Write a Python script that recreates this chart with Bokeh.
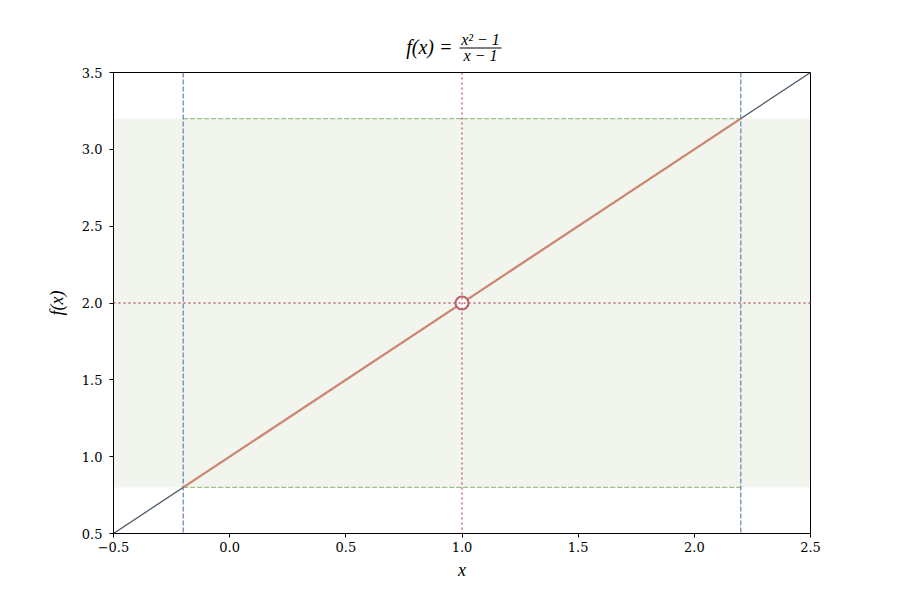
from bokeh.plotting import figure
from bokeh.layouts import column
from bokeh.models import Span, BoxAnnotation, FixedTicker, Range1d
from bokeh.core.properties import value
from bokeh.embed import file_html
from bokeh.resources import INLINE

# ---- data ----
x_ticks = [-0.5, 0.0, 0.5, 1.0, 1.5, 2.0, 2.5]
x_tick_labels = ["\u22120.5", "0.0", "0.5", "1.0", "1.5", "2.0", "2.5"]
y_ticks = [0.5, 1.0, 1.5, 2.0, 2.5, 3.0, 3.5]
y_tick_labels = ["0.5", "1.0", "1.5", "2.0", "2.5", "3.0", "3.5"]

full_x = [-0.5, 2.5]
full_y = [0.5, 3.5]
near_x = [-0.2, 2.2]
near_y = [0.8, 3.2]
hole_x = [1.0]
hole_y = [2.0]
limit_a = 1.0
limit_L = 2.0
delta_lo, delta_hi = -0.2, 2.2
eps_lo, eps_hi = 0.8, 3.2

title_lhs = "f(x) ="
title_num = "x\u00b2 \u2212 1"
title_den = "x \u2212 1"

GRAY = "#4c566a"
ORANGE = "#d08770"
RED = "#bf616a"
BLUE = "#5e81ac"
GREEN = "#a3be8c"
TICKFONT = "DejaVu Serif"
MATHFONT = "Liberation Serif"

W = 884
TITLE_H = 64
LEFT, FRAME_W = 113, 697
RIGHT = W - LEFT - FRAME_W

xr = Range1d(-0.5, 2.5)


def px(xpix):
    """page pixel -> x data coordinate (layout helper for the title strip)"""
    return xr.start + (xpix - LEFT) * (xr.end - xr.start) / FRAME_W


# ---- title strip: shares the x scale of the main plot, y in pixels downward ----
t = figure(width=W, height=TITLE_H, output_backend="svg", toolbar_location=None,
           x_range=xr, y_range=Range1d(TITLE_H, 0),
           x_axis_location=None, y_axis_location=None,
           min_border_left=LEFT, min_border_right=RIGHT, min_border_top=0, min_border_bottom=0,
           outline_line_color=None)
t.grid.visible = False
t.text(x=[px(452)], y=[46], text=[title_lhs], text_font=value(MATHFONT), text_font_style="italic",
       text_font_size="20px", text_align="right", text_baseline="middle", text_color="black")
t.text(x=[px(480)], y=[39], text=[title_num], text_font=value(MATHFONT), text_font_style="italic",
       text_font_size="16px", text_align="center", text_baseline="middle", text_color="black")
t.text(x=[px(480)], y=[54.5], text=[title_den], text_font=value(MATHFONT), text_font_style="italic",
       text_font_size="16px", text_align="center", text_baseline="middle", text_color="black")
t.segment(x0=[px(459)], y0=[47.5], x1=[px(501)], y1=[47.5], line_color="black", line_width=1)

# ---- main plot ----
H = 528
p = figure(width=W, height=H, output_backend="svg", toolbar_location=None,
           x_range=xr, y_range=Range1d(0.5, 3.5),
           min_border_left=LEFT, min_border_right=RIGHT,
           min_border_top=72 - TITLE_H, min_border_bottom=H - (72 - TITLE_H) - 461)
p.grid.visible = False
p.outline_line_color = "black"
p.outline_line_width = 1
p.background_fill_color = "white"
p.border_fill_color = "white"

# epsilon band
p.add_layout(BoxAnnotation(bottom=eps_lo, top=eps_hi, fill_color=GREEN, fill_alpha=0.15,
                           line_color=None, level="underlay"))

# delta verticals
for xv in (delta_lo, delta_hi):
    p.add_layout(Span(location=xv, dimension="height", line_color=BLUE,
                      line_width=1.2, line_dash="5 2"))
# epsilon horizontals within delta
p.segment(x0=[delta_lo, delta_lo], y0=[eps_lo, eps_hi], x1=[delta_hi, delta_hi], y1=[eps_lo, eps_hi],
          line_color=GREEN, line_width=1.2, line_dash="5 2")
# limit lines
p.add_layout(Span(location=limit_a, dimension="height", line_color=RED,
                  line_width=1.4, line_dash="2 3"))
p.add_layout(Span(location=limit_L, dimension="width", line_color=RED,
                  line_width=1.4, line_dash="2 3"))

# function
p.line(full_x, full_y, line_color=GRAY, line_width=1.3)
p.line(near_x, near_y, line_color=ORANGE, line_width=2.2)
p.scatter(hole_x, hole_y, size=13, fill_color="white", line_color=RED, line_width=2.2)

# axes
for ax, ticks, labels in ((p.xaxis[0], x_ticks, x_tick_labels), (p.yaxis[0], y_ticks, y_tick_labels)):
    ax.ticker = FixedTicker(ticks=ticks)
    ax.major_label_overrides = dict(zip(ticks, labels))
    ax.minor_tick_line_color = None
    ax.major_tick_in = 0
    ax.major_tick_out = 4
    ax.axis_line_color = "black"
    ax.major_tick_line_color = "black"
    ax.major_label_text_font = TICKFONT
    ax.major_label_text_font_size = "13px"
    ax.major_label_text_color = "black"
    ax.axis_label_text_font = MATHFONT
    ax.axis_label_text_font_style = "italic"
    ax.axis_label_text_font_size = "18px"
    ax.axis_label_text_color = "black"
p.xaxis.axis_label = "x"
p.yaxis.axis_label = "f(x)"
p.xaxis.major_label_standoff = 4
p.yaxis.major_label_standoff = 7
p.xaxis.axis_label_standoff = 5
p.yaxis.axis_label_standoff = 12

layout = column(t, p, spacing=0)
open("out.html", "w").write(file_html(layout, INLINE))
